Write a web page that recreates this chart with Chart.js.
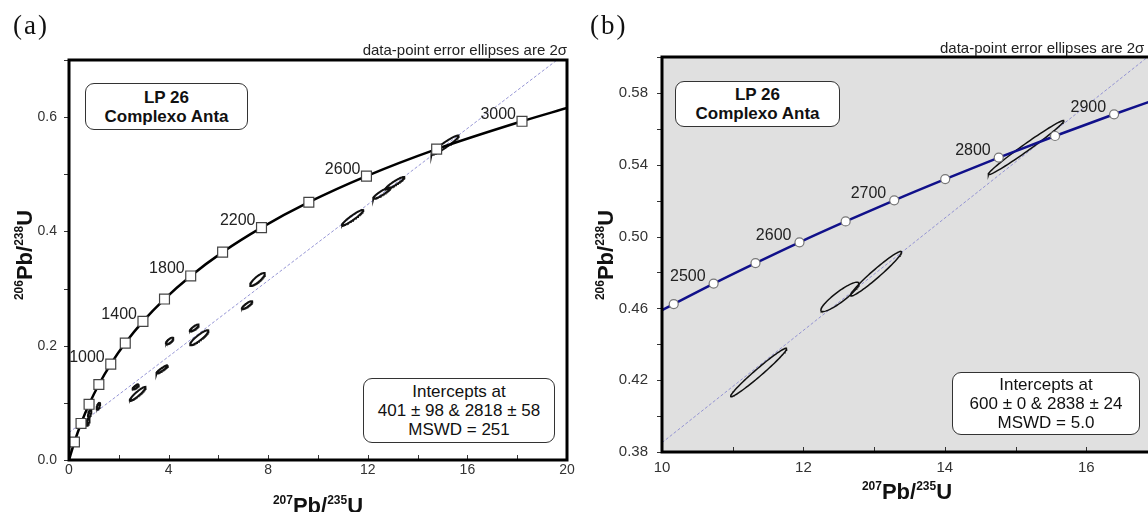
<!DOCTYPE html>
<html><head><meta charset="utf-8">
<script src="https://cdn.jsdelivr.net/npm/chart.js@4.4.0/dist/chart.umd.min.js"></script>
<style>
html,body{margin:0;padding:0;background:#fff;overflow:hidden;width:1148px;height:512px;}
#wrap{position:relative;width:1148px;height:512px;overflow:hidden;font-family:"Liberation Sans",Arial,sans-serif;}
canvas{position:absolute;top:0;}
.t{position:absolute;white-space:nowrap;color:#222;}
.panel{font-family:"Liberation Serif","Times New Roman",serif;font-size:27px;letter-spacing:2px;color:#111;line-height:27px;}
.cap{font-size:15px;line-height:15px;color:#222;}
.box{position:absolute;border:1.3px solid #333;border-radius:9px;background:#fff;box-sizing:border-box;display:flex;flex-direction:column;justify-content:center;align-items:center;color:#111;}
.box div{line-height:19px;white-space:nowrap;}
.b1{font-weight:bold;font-size:17px;}
.b2{font-size:17px;}
.axt{position:absolute;font-weight:bold;font-size:22px;line-height:22px;color:#111;white-space:nowrap;}
.axt .s{font-size:12px;position:relative;top:-9px;vertical-align:baseline;}
</style></head>
<body><div id="wrap">
<canvas id="ca" width="580" height="512" style="left:0px;width:580px;height:512px"></canvas>
<canvas id="cb" width="590" height="512" style="left:580px;width:590px;height:512px"></canvas>

<div class="t panel" style="left:13px;top:12px">(a)</div>
<div class="t panel" style="left:590px;top:12px">(b)</div>
<div class="t cap" style="right:581px;top:42px">data-point error ellipses are 2σ</div>
<div class="t cap" style="left:940px;top:40px">data-point error ellipses are 2σ</div>

<div class="box" style="left:85px;top:83px;width:163px;height:47px"><div class="b1">LP 26</div><div class="b1">Complexo Anta</div></div>
<div class="box" style="left:675px;top:81px;width:165px;height:46px"><div class="b1">LP 26</div><div class="b1">Complexo Anta</div></div>
<div class="box" style="left:363px;top:378px;width:192px;height:65px"><div class="b2">Intercepts at</div><div class="b2">401 ± 98 &amp; 2818 ± 58</div><div class="b2">MSWD = 251</div></div>
<div class="box" style="left:952px;top:372px;width:188px;height:63px"><div class="b2">Intercepts at</div><div class="b2">600 ± 0 &amp; 2838 ± 24</div><div class="b2">MSWD = 5.0</div></div>

<div class="axt" style="left:318px;top:495px;transform:translateX(-50%)"><span class="s">207</span>Pb/<span class="s">235</span>U</div>
<div class="axt" style="left:907px;top:481px;transform:translateX(-50%)"><span class="s">207</span>Pb/<span class="s">235</span>U</div>
<div class="axt" style="left:26px;top:255px;transform:translate(-50%,-50%) rotate(-90deg)"><span class="s">206</span>Pb/<span class="s">238</span>U</div>
<div class="axt" style="left:607px;top:255px;transform:translate(-50%,-50%) rotate(-90deg)"><span class="s">206</span>Pb/<span class="s">238</span>U</div>
</div>
<script>
// ---------- Panel (a) data ----------
const concAgesA = [200,400,600,800,1000,1200,1400,1600,1800,2000,2200,2400,2600,2800,3000];
const concXA = [0.218,0.483,0.806,1.199,1.677,2.260,2.970,3.835,4.888,6.169,7.731,9.632,11.946,14.765,18.193];
const concYA = [0.0315,0.0640,0.0975,0.1321,0.1678,0.2046,0.2426,0.2817,0.3221,0.3638,0.4067,0.4511,0.4968,0.5440,0.5927];
const concStartA = {x:0, y:0};
const concEndA = {x:20, y:0.616};
const labelAgesA = [1000,1400,1800,2200,2600,3000];
const discordiaXA = [0, 19.6];
const discordiaYA = [0.048, 0.70];
// ellipses: centre x, centre y, 2σ x, 2σ y, correlation
const ellXA   = [0.83, 0.76, 1.18, 2.68, 2.76, 3.74, 4.04, 5.23, 5.03, 7.15, 7.57, 11.39, 12.56, 13.09, 15.10];
const ellYA   = [0.0816,0.0669,0.0943,0.1280,0.1158,0.1586,0.2084,0.2140,0.2310,0.2710,0.3160,0.4240,0.4670,0.4844,0.5510];
const ellSXA  = [0.07, 0.07, 0.07, 0.13, 0.32, 0.235, 0.15, 0.37, 0.18, 0.21, 0.30, 0.43, 0.35, 0.38, 0.55];
const ellSYA  = [0.0070,0.0070,0.0060,0.0047,0.0122,0.0073,0.0058,0.0131,0.0060,0.0070,0.0114,0.0137,0.0100,0.0110,0.0170];
const ellRhoA = [0.6, 0.6, 0.6, 0.8, 0.925, 0.92, 0.72, 0.9, 0.82, 0.85, 0.86, 0.94, 0.91, 0.93, 0.95];

// ---------- Panel (b) data ----------
const concAgesB = [2450,2500,2550,2600,2650,2700,2750,2800,2850,2900];
const concXB = [10.166,10.730,11.322,11.944,12.597,13.284,14.005,14.762,15.558,16.393];
const concYB = [0.4624,0.4738,0.4852,0.4968,0.5084,0.5202,0.5320,0.5440,0.5560,0.5681];
const concStartB = {x:10, y:0.4590};
const concEndB = {x:17, y:0.5765};
const labelAgesB = [2500,2600,2700,2800,2900];
const discordiaXB = [10, 17];
const discordiaYB = [0.3852, 0.6041];
const ellXB   = [11.367, 12.516, 13.027, 15.147];
const ellYB   = [0.4243, 0.4664, 0.4793, 0.5495];
const ellSXB  = [0.396, 0.269, 0.36, 0.535];
const ellSYB  = [0.0135, 0.0082, 0.0124, 0.0151];
const ellRhoB = [0.98, 0.90, 0.97, 0.987];

function ellipseOutline(cx, cy, sx, sy, r){
  const pts = [], N = 90, q = Math.sqrt(1 - r*r);
  for (let k = 0; k <= N; k++){
    const t = 2*Math.PI*k/N;
    pts.push({x: cx + sx*Math.cos(t), y: cy + sy*(r*Math.cos(t) + q*Math.sin(t))});
  }
  return pts;
}
function zip(xs, ys){ return xs.map((x,i)=>({x:x, y:ys[i]})); }

const framePlugin = {
  id: 'frame',
  beforeDatasetsDraw(chart, args, o){
    if (o.bg){
      const a = chart.chartArea, c = chart.ctx;
      c.save(); c.fillStyle = o.bg; c.fillRect(a.left, a.top, a.right-a.left, a.bottom-a.top); c.restore();
    }
  },
  afterDraw(chart, args, o){
    const a = chart.chartArea, c = chart.ctx;
    const xs = chart.scales.x, ys = chart.scales.y;
    c.save();
    c.font = '16px "Liberation Sans", Arial, sans-serif';
    c.fillStyle = '#222'; c.textAlign = 'right'; c.textBaseline = 'middle';
    o.ages.forEach((age, i) => {
      if (o.show.indexOf(age) < 0) return;
      const px = xs.getPixelForValue(o.xs[i]), py = ys.getPixelForValue(o.ys[i]);
      c.fillText(String(age), px - o.dx, py - o.dy);
    });
    c.strokeStyle = '#333'; c.lineWidth = 1;
    xs.ticks.forEach(t => {
      const px = Math.round(xs.getPixelForValue(t.value)) + 0.5;
      c.beginPath(); c.moveTo(px, a.bottom); c.lineTo(px, a.bottom - 5); c.stroke();
    });
    ys.ticks.forEach(t => {
      const py = Math.round(ys.getPixelForValue(t.value)) + 0.5;
      c.beginPath(); c.moveTo(a.left - 5, py); c.lineTo(a.left, py); c.stroke();
    });
    c.strokeStyle = '#000'; c.lineWidth = 3;
    c.strokeRect(a.left, a.top, a.right - a.left, a.bottom - a.top);
    c.restore();
  }
};

function buildDatasets(p){
  const ds = [];
  ds.push({ data: zip(p.cx, p.cy), showLine:false, pointStyle:p.pstyle, pointRadius:p.prad,
            pointBackgroundColor:'#fff', pointBorderColor:p.pborder, pointBorderWidth:1.2 });
  ds.push({ data: [p.start].concat(zip(p.cx, p.cy), [p.end]), showLine:true, pointRadius:0,
            borderColor:p.ccol, borderWidth:p.cw, cubicInterpolationMode:'monotone', fill:false });
  p.ex.forEach((x,i) => {
    ds.push({ data: ellipseOutline(x, p.ey[i], p.esx[i], p.esy[i], p.er[i]), showLine:true, pointRadius:0,
              borderColor:'#111', borderWidth:p.ew, tension:0, fill:false });
  });
  ds.push({ data: zip(p.dx, p.dy), showLine:true, pointRadius:0, borderColor:'#8a8ad0',
            borderWidth:0.9, borderDash:[3,2], fill:false });
  return ds;
}

function makeChart(id, p){
  return new Chart(document.getElementById(id), {
    type: 'scatter',
    data: { datasets: buildDatasets(p) },
    options: {
      responsive:false, animation:false, events:[], devicePixelRatio:1,
      layout: { padding: { left:0, right:13, top:p.top, bottom:0 } },
      plugins: { legend:{display:false}, tooltip:{enabled:false},
        frame: { bg:p.bg, ages:p.ages, xs:p.cx, ys:p.cy, show:p.show, dx:p.ldx, dy:p.ldy } },
      scales: {
        x: { type:'linear', min:p.xmin, max:p.xmax,
             afterFit: s => { s.height = p.xh; },
             grid:{display:false, drawTicks:false}, border:{display:false},
             ticks:{ stepSize:p.xstep, autoSkip:false, maxRotation:0, padding:p.xpad, color:'#333',
                     font:{family:'"Liberation Sans", Arial, sans-serif', size:p.fs},
                     callback: p.xcb } },
        y: { type:'linear', min:p.ymin, max:p.ymax,
             afterFit: s => { s.width = p.yw; },
             grid:{display:false, drawTicks:false}, border:{display:false},
             ticks:{ stepSize:p.ystep, autoSkip:false, padding:p.ypad, color:'#333',
                     font:{family:'"Liberation Sans", Arial, sans-serif', size:p.fs},
                     callback: p.ycb } }
      }
    },
    plugins: [framePlugin]
  });
}

makeChart('ca', {
  cx:concXA, cy:concYA, ages:concAgesA, show:labelAgesA, start:concStartA, end:concEndA,
  pstyle:'rect', prad:7, pborder:'#444', ccol:'#000', cw:2.5,
  ex:ellXA, ey:ellYA, esx:ellSXA, esy:ellSYA, er:ellRhoA, ew:2,
  dx:discordiaXA, dy:discordiaYA, bg:null, ldx:6, ldy:7, fs:14,
  top:60, xh:52, yw:69, xmin:0, xmax:20, xstep:2, xpad:2,
  ymin:0, ymax:0.7, ystep:0.1, ypad:12,
  xcb: v => (Math.round(v) % 4 === 0 ? String(Math.round(v)) : ''),
  ycb: v => { const r = Math.round(v*10); return (r % 2 === 0 && r <= 6) ? (r/10).toFixed(1) : ''; }
});

makeChart('cb', {
  cx:concXB, cy:concYB, ages:concAgesB, show:labelAgesB, start:concStartB, end:concEndB,
  pstyle:'circle', prad:4.5, pborder:'#777', ccol:'#10108a', cw:2.5,
  ex:ellXB, ey:ellYB, esx:ellSXB, esy:ellSYB, er:ellRhoB, ew:1.5,
  dx:discordiaXB, dy:discordiaYB, bg:'#e0e0e0', ldx:8, ldy:7, fs:15,
  top:57, xh:60, yw:82, xmin:10, xmax:17, xstep:1, xpad:7,
  ymin:0.38, ymax:0.60, ystep:0.02, ypad:14,
  xcb: v => (Math.round(v) % 2 === 0 ? String(Math.round(v)) : ''),
  ycb: v => { const r = Math.round(v*100); return ((r - 38) % 4 === 0 && r <= 58) ? (r/100).toFixed(2) : ''; }
});
</script>
</body></html>
